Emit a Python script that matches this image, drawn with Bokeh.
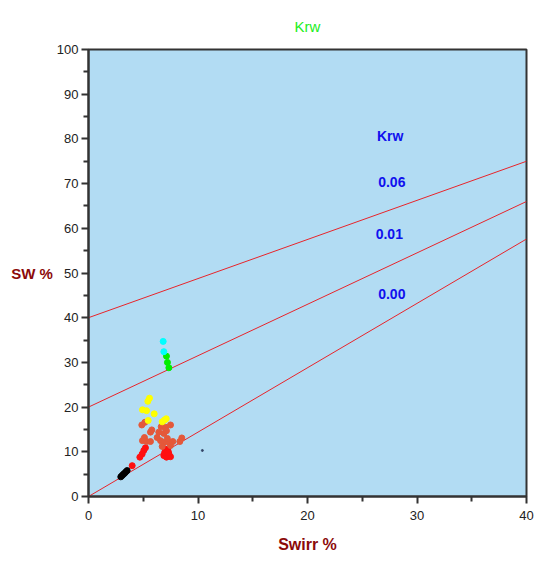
from bokeh.plotting import figure
from bokeh.models import Label, Title, FixedTicker
from bokeh.embed import file_html
from bokeh.resources import INLINE

# Krw reference lines: Sw = intercept + slope * Swirr
krw_labels = ["0.06", "0.01", "0.00"]
krw_intercept = [40.0, 20.0, 0.0]
krw_end = [75.0, 66.0, 57.6]   # Sw at Swirr = 40
krw_label_x = [27.7, 27.47, 27.7]
krw_label_y = [70.4, 58.8, 45.4]

cyan_x = [6.82, 6.88]
cyan_y = [34.7, 32.4]
green_x = [7.12, 7.21, 7.34]
green_y = [31.4, 30.0, 28.8]
yellow_x = [5.57, 5.42, 4.93, 5.30, 6.00, 5.45, 6.73, 6.94, 7.10]
yellow_y = [22.0, 21.3, 19.4, 19.2, 18.5, 17.0, 16.7, 17.1, 17.4]
orange_x = [4.87, 5.15, 5.78, 5.66, 5.11, 4.93, 5.30, 5.66, 6.64, 7.03, 7.49, 6.42,
            6.88, 7.12, 6.58, 6.88, 7.34, 7.70, 8.34, 8.52, 6.73, 7.49, 6.27, 7.20]
orange_y = [16.0, 16.6, 14.9, 14.4, 13.2, 12.5, 12.3, 12.3, 15.6, 15.5, 16.0, 14.4,
            14.1, 14.7, 12.5, 12.1, 12.1, 12.3, 12.3, 13.1, 11.2, 11.4, 13.2, 13.0]
red_x = [7.03, 7.24, 7.34, 6.88, 7.12, 7.49, 5.05, 4.90, 4.69, 5.20, 3.99, 6.95, 7.30]
red_y = [10.6, 10.4, 9.5, 9.15, 8.8, 8.9, 10.3, 9.5, 8.8, 10.9, 6.9, 9.8, 9.9]
black_x = [3.53, 3.40, 3.29, 3.18, 3.07, 2.95]
black_y = [5.8, 5.5, 5.2, 4.95, 4.7, 4.4]
odd_x = [10.4]
odd_y = [10.3]

x_ticks = [0, 10, 20, 30, 40]
y_ticks = [0, 10, 20, 30, 40, 50, 60, 70, 80, 90, 100]

p = figure(width=536, height=562, x_range=(0, 40), y_range=(0, 100),
           output_backend="svg", toolbar_location=None,
           min_border_left=88, min_border_right=10, min_border_top=49, min_border_bottom=66)

p.background_fill_color = "#b2dcf3"
p.border_fill_color = "white"
p.grid.visible = False
p.outline_line_color = "#333333"
p.outline_line_width = 2

title = Title(text="Krw", align="center", vertical_align="bottom", offset=27, standoff=30,
              text_color="#22ee22", text_font="Liberation Sans", text_font_size="15px",
              text_font_style="normal")
p.add_layout(title, "above")

for ax in (p.xaxis[0], p.yaxis[0]):
    ax.axis_line_color = "#333333"
    ax.axis_line_width = 2
    ax.major_tick_line_color = "#333333"
    ax.major_tick_line_width = 2
    ax.minor_tick_line_color = "#333333"
    ax.minor_tick_line_width = 2
    ax.major_tick_out = 7
    ax.major_tick_in = 0
    ax.minor_tick_out = 5
    ax.minor_tick_in = 0
    ax.major_label_text_font = "Liberation Sans"
    ax.major_label_text_font_size = "13px"
    ax.major_label_text_color = "#222222"
    ax.axis_label_text_font = "Liberation Sans"
    ax.axis_label_text_font_size = "16px"
    ax.axis_label_text_font_style = "bold"
    ax.axis_label_text_color = "#8b0a0a"

p.xaxis.ticker = FixedTicker(ticks=x_ticks, minor_ticks=[5, 15, 25, 35])
p.yaxis.ticker = FixedTicker(ticks=y_ticks, minor_ticks=[5, 15, 25, 35, 45, 55, 65, 75, 85, 95])
p.xaxis.axis_label = "Swirr %"
p.yaxis.axis_label = "SW %"
p.yaxis.axis_label_orientation = "horizontal"
p.yaxis.major_label_standoff = 3
p.yaxis.axis_label_standoff = 1
p.yaxis.axis_label_text_font_size = "15px"
p.xaxis.major_label_standoff = 7
p.xaxis.axis_label_standoff = 13

for a, b in zip(krw_intercept, krw_end):
    p.line([0, 40], [a, b], line_color="#e8242a", line_width=1)

p.scatter(black_x, black_y, size=6, color="black")
p.scatter(red_x, red_y, size=6, color="#ff1010")
p.scatter(orange_x, orange_y, size=6, color="#e4583a")
p.scatter(yellow_x, yellow_y, size=6, color="#ffff00")
p.scatter(green_x, green_y, size=6, color="#00ee00")
p.scatter(cyan_x, cyan_y, size=6, color="#00ffff")
p.scatter(odd_x, odd_y, size=2, color="#334466")

p.add_layout(Label(x=27.55, y=80.6, text="Krw", text_align="center", text_baseline="middle",
                   text_color="#1010ee", text_font="Liberation Sans", text_font_size="14px",
                   text_font_style="bold"))
for t, lx, ly in zip(krw_labels, krw_label_x, krw_label_y):
    p.add_layout(Label(x=lx, y=ly, text=t, text_align="center", text_baseline="middle",
                       text_color="#1010ee", text_font="Liberation Sans", text_font_size="14px",
                       text_font_style="bold"))

open("out.html", "w").write(file_html(p, INLINE))
